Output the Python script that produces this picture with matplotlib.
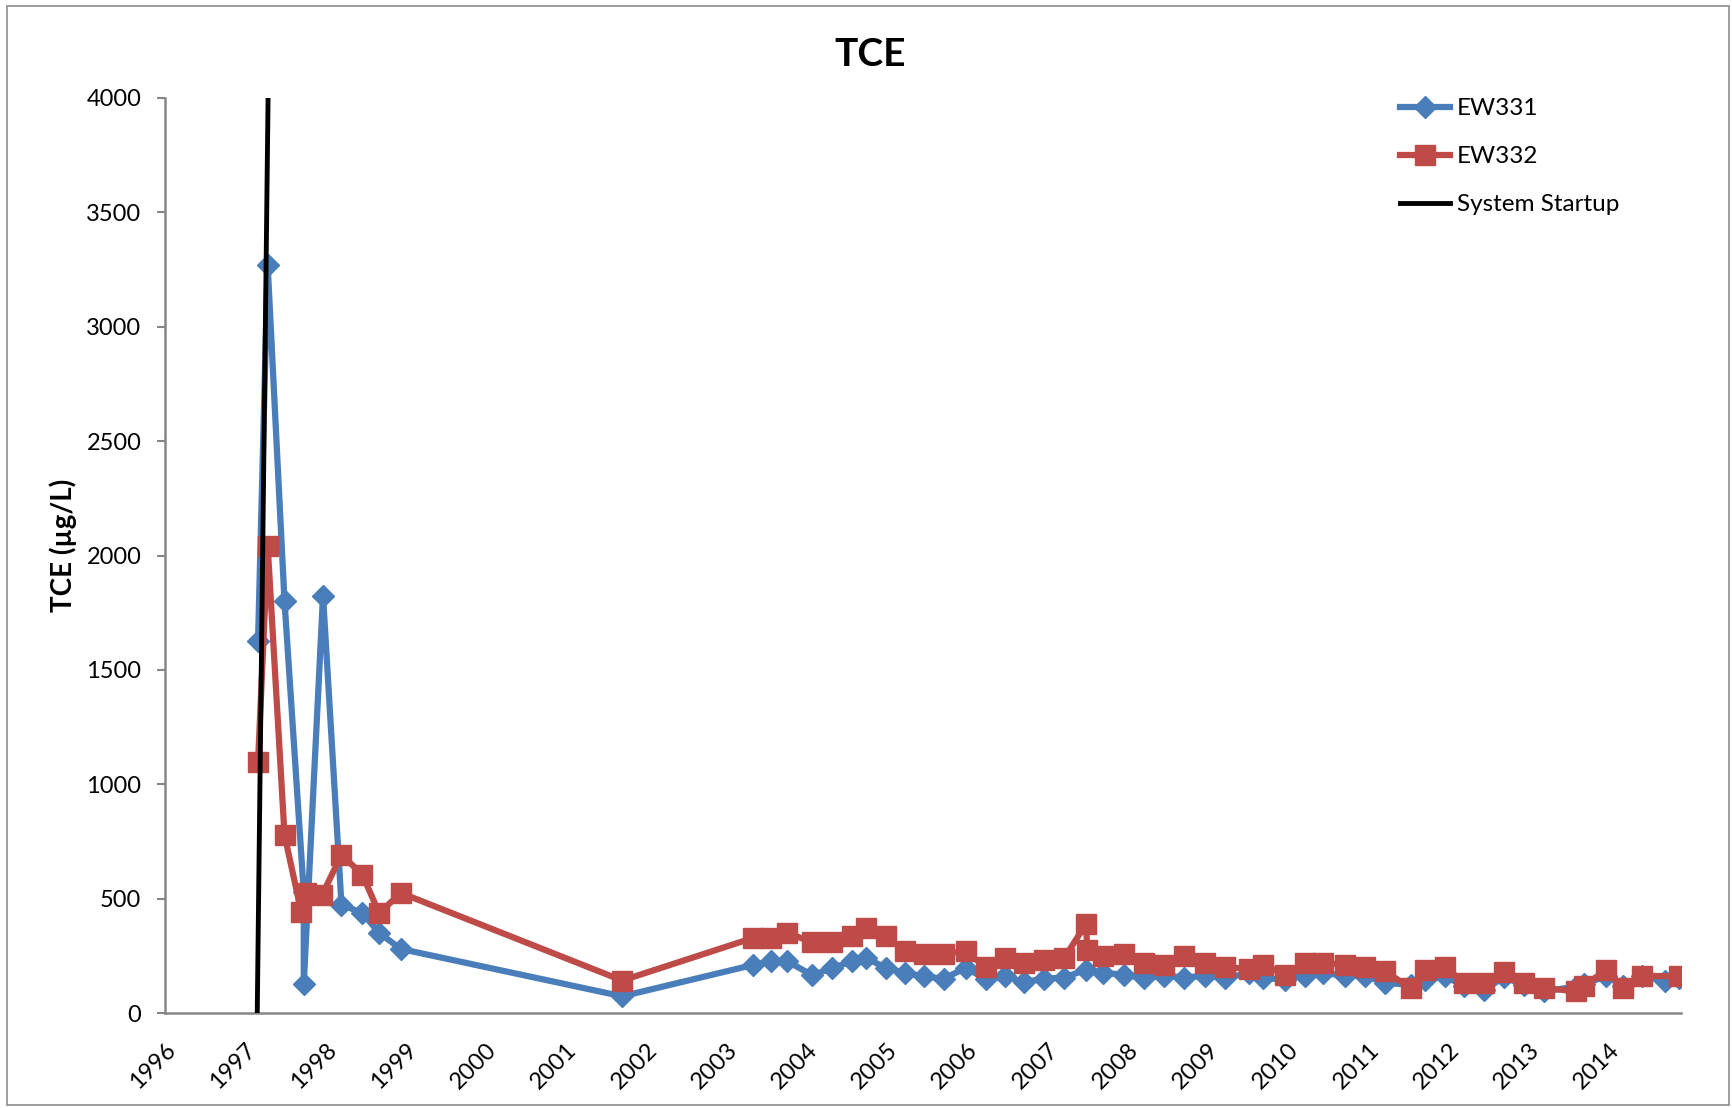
import matplotlib
matplotlib.use("Agg")
import matplotlib.pyplot as plt
from matplotlib.patches import Rectangle

plt.rcParams['font.family'] = ['Lato', 'DejaVu Sans']

# sample dates as decimal years, TCE in ug/L
ew331_year = [1997.16, 1997.28, 1997.49, 1997.73, 1997.73, 1997.97, 1998.20, 1998.46, 1998.67, 1998.94,
              2001.70, 2003.33, 2003.56, 2003.76, 2004.07, 2004.32, 2004.57, 2004.74, 2004.99, 2005.23,
              2005.46, 2005.71, 2005.98, 2006.23, 2006.47, 2006.71, 2006.96, 2007.21, 2007.48, 2007.69,
              2007.96, 2008.21, 2008.46, 2008.71, 2008.96, 2009.22, 2009.52, 2009.69, 2009.96, 2010.21,
              2010.44, 2010.71, 2010.96, 2011.21, 2011.53, 2011.71, 2011.96, 2012.20, 2012.45, 2012.69,
              2012.94, 2013.19, 2013.59, 2013.69, 2013.97, 2014.18, 2014.42, 2014.70, 2014.87]
ew331_tce = [1628, 3268, 1800, 527, 128, 1825, 474, 437, 350, 280,
             73, 210, 226, 226, 165, 197, 226, 240, 197, 175,
             160, 150, 197, 150, 160, 135, 150, 155, 189, 175,
             168, 153, 163, 155, 163, 153, 175, 153, 146, 163,
             175, 163, 163, 131, 124, 146, 160, 117, 102, 156,
             124, 95, 115, 125, 163, 120, 160, 140, 155]

ew332_year = [1997.16, 1997.28, 1997.49, 1997.70, 1997.76, 1997.96, 1998.20, 1998.46, 1998.67, 1998.94,
              2001.70, 2003.33, 2003.56, 2003.76, 2004.07, 2004.32, 2004.57, 2004.74, 2004.99, 2005.23,
              2005.46, 2005.71, 2005.98, 2006.23, 2006.47, 2006.71, 2006.96, 2007.21, 2007.48, 2007.50,
              2007.69, 2007.96, 2008.21, 2008.46, 2008.71, 2008.96, 2009.22, 2009.52, 2009.69, 2009.96,
              2010.21, 2010.44, 2010.71, 2010.96, 2011.21, 2011.53, 2011.71, 2011.96, 2012.20, 2012.45,
              2012.69, 2012.94, 2013.19, 2013.59, 2013.69, 2013.97, 2014.18, 2014.42, 2014.87]
ew332_tce = [1096, 2043, 778, 440, 525, 517, 692, 605, 437, 525,
             142, 328, 328, 350, 309, 309, 335, 372, 335, 270,
             259, 259, 270, 201, 240, 219, 230, 240, 388, 277,
             251, 259, 219, 211, 251, 219, 201, 192, 211, 168,
             219, 219, 211, 201, 182, 109, 189, 201, 131, 131,
             178, 131, 109, 95, 119, 189, 109, 163, 160]

startup_year = [1997.15, 1997.285]
startup_tce = [0, 4000]

year_ticks = list(range(1996, 2015))
tce_ticks = list(range(0, 4001, 500))

blue = '#4A7EBB'
red = '#BE4B48'
grey = '#868686'

fig = plt.figure(figsize=(17.32, 11.08), dpi=100)
ax = fig.add_axes([165/1732, 1 - 1013/1108, (1681 - 165)/1732, (1013 - 98)/1108])

ax.plot(ew331_year, ew331_tce, color=blue, lw=4.5, marker='D', ms=11,
        mec=blue, mfc=blue, label='EW331', zorder=2)
ax.plot(ew332_year, ew332_tce, color=red, lw=4.5, marker='s', ms=14,
        mec=red, mfc=red, label='EW332', zorder=3)
ax.plot(startup_year, startup_tce, color='black', lw=3.5, label='System Startup', zorder=4)

ax.set_xlim(1996, 2014.9)
ax.set_ylim(0, 4000)
ax.set_xticks(year_ticks)
ax.set_xticklabels([str(y) for y in year_ticks], rotation=45, ha='right', va='top',
                   rotation_mode='anchor', fontsize=17)
ax.set_yticks(tce_ticks)
ax.set_yticklabels([str(t) for t in tce_ticks], fontsize=17)

for side in ['top', 'right']:
    ax.spines[side].set_visible(False)
for side in ['left', 'bottom']:
    ax.spines[side].set_color(grey)
    ax.spines[side].set_linewidth(1.8)
ax.tick_params(axis='y', direction='out', length=6, width=1.5, color=grey, pad=11)
ax.tick_params(axis='x', length=0, pad=19)

fig.text(870/1732, 1 - 54/1108, 'TCE', fontsize=28, fontweight='bold', ha='center', va='center')
fig.text(63/1732, 1 - 545/1108, 'TCE (µg/L)', fontsize=20, fontweight='bold',
         rotation=90, ha='center', va='center')

fig.legend(loc='upper left', bbox_to_anchor=(1400/1732, 1 - 98/1108), frameon=False,
           fontsize=17.5, handlelength=2.05, handletextpad=0.3, labelspacing=1.12,
           borderpad=0, borderaxespad=0)

fig.patches.append(Rectangle((0.004, 0.003), 0.994, 0.992, transform=fig.transFigure,
                             fill=False, edgecolor='#8c8c8c', lw=1.2))

fig.savefig('out.png', dpi=100)
